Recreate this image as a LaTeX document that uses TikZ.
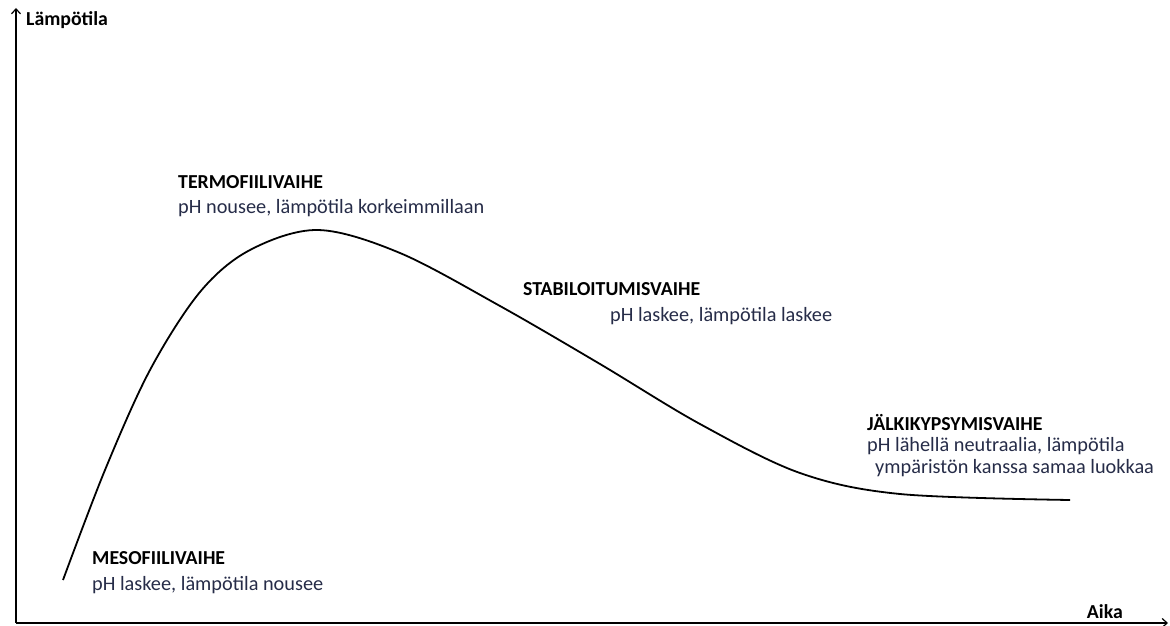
\documentclass[tikz,border=0pt]{standalone}
\usepackage{fontspec}
\setmainfont{Carlito}
\usetikzlibrary{arrows.meta}
\definecolor{bodytext}{RGB}{38,44,72}
\tikzset{
    phase/.style={anchor=west, inner sep=0pt, font=\fontsize{19.8}{22}\selectfont\bfseries}, % 阶段名称
    note/.style={anchor=west, inner sep=0pt, text=bodytext, font=\fontsize{20.3}{24}\selectfont}, % 说明文字
    axis/.style={line width=1.2pt, -{Straight Barb[length=5pt, width=9pt]}} % 坐标轴
}

\begin{document}
\begin{tikzpicture}[x=1pt, y=-1pt]
            \def\xmin{16} \def\xmax{1168} \def\ymin{8} \def\ymax{623}
            \useasboundingbox (0,0) rectangle (1170,626);

            \coordinate (origin) at (\xmin, \ymax);
            \coordinate (ytop) at (\xmin, \ymin);
            \coordinate (xend) at (\xmax, \ymax);
            \draw[axis] (origin) -- (ytop);
            \draw[axis] (origin) -- (xend);
            \node[phase] (ylabel) at (26, 20) {Lämpötila};
            \node[phase, anchor=east] (xlabel) at (1123, 612) {Aika};

            \draw[line width=1.8pt] plot[smooth, tension=0.55] coordinates {
                (63,580) (105,470) (150,370) (200,292) (250,250) (318,230)
                (400,253) (500,306) (600,364) (700,424)
                (800,473) (900,494) (1070,500)};

            \node[phase] (meso) at (92, 558) {MESOFIILIVAIHE};
            \node[note] (mesoNote) at (92, 585) {pH laskee, lämpötila nousee};
            \node[phase] (termo) at (178, 182) {TERMOFIILIVAIHE};
            \node[note] (termoNote) at (178, 208) {pH nousee, lämpötila korkeimmillaan};
            \node[phase] (stab) at (523, 289) {STABILOITUMISVAIHE};
            \node[note] (stabNote) at (610, 316) {pH laskee, lämpötila laskee};
            \node[phase] (jalki) at (867, 423) {JÄLKIKYPSYMISVAIHE};
            \node[note] (jalkiNote) at (867, 446) {pH lähellä neutraalia, lämpötila};
            \node[note] (jalkiNoteB) at (875, 468) {ympäristön kanssa samaa luokkaa};
        \end{tikzpicture}
\end{document}
